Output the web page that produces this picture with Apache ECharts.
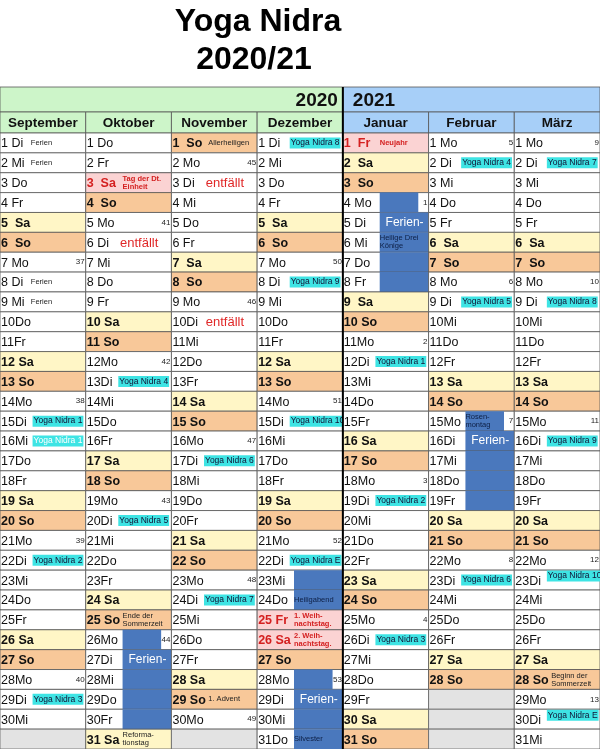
<!DOCTYPE html>
<html><head><meta charset="utf-8">
<script src="https://cdn.jsdelivr.net/npm/echarts@6/dist/echarts.min.js"></script>
<style>html,body{margin:0;padding:0;background:#fff}#c{width:600px;height:749px}</style>
</head><body><div id="c"></div>
<script>
// ---- data ----
const monthNames = ['September','Oktober','November','Dezember','Januar','Februar','März'];
const monthYears = [2020,2020,2020,2020,2021,2021,2021];
const monthNums = [9,10,11,12,1,2,3];
const dayLabels = ['1','2','3','4','5','6','7','8','9','10','11','12','13','14','15','16','17','18','19','20','21','22','23','24','25','26','27','28','29','30','31'];
const weekdayAbbr = ['So','Mo','Di','Mi','Do','Fr','Sa'];
// [monthIndex, day, text]
const yogaNotes = [
 [0,15,'Yoga Nidra 1'],[0,16,'Yoga Nidra 1'],[0,22,'Yoga Nidra 2'],[0,29,'Yoga Nidra 3'],
 [1,13,'Yoga Nidra 4'],[1,20,'Yoga Nidra 5'],
 [2,17,'Yoga Nidra 6'],[2,24,'Yoga Nidra 7'],
 [3,1,'Yoga Nidra 8'],[3,8,'Yoga Nidra 9'],[3,15,'Yoga Nidra 10'],[3,22,'Yoga Nidra E'],
 [4,12,'Yoga Nidra 1'],[4,19,'Yoga Nidra 2'],[4,26,'Yoga Nidra 3'],
 [5,2,'Yoga Nidra 4'],[5,9,'Yoga Nidra 5'],[5,23,'Yoga Nidra 6'],
 [6,2,'Yoga Nidra 7'],[6,9,'Yoga Nidra 8'],[6,16,'Yoga Nidra 9'],[6,23,'Yoga Nidra 10'],[6,30,'Yoga Nidra E']
];
const cancelNotes = [[1,6,'entfällt'],[2,3,'entfällt'],[2,10,'entfällt']];
const smallNotes = [
 [0,1,'Ferien'],[0,2,'Ferien'],[0,8,'Ferien'],[0,9,'Ferien'],
 [2,1,'Allerheiligen'],[1,25,'Ende der\nSommerzeit'],[1,31,'Reforma-\ntionstag'],
 [2,29,'1. Advent'],[6,28,'Beginn der\nSommerzeit'],[3,24,'Heiligabend'],[3,31,'Silvester'],
 [4,6,'Heilige Drei\nKönige'],[5,15,'Rosen-\nmontag']
];
const holidayNotes = [[1,3,'Tag der Dt.\nEinheit'],[4,1,'Neujahr'],[3,25,'1. Weih-\nnachtstag.'],[3,26,'2. Weih-\nnachtstag.']];
// [monthIndex, firstDay, lastDay, labelDay]
const ferien = [[1,26,30,27],[3,23,24,0],[3,28,31,29],[4,4,8,5],[5,15,19,16]];
const weekNumbers = [[0,7,37],[0,14,38],[0,21,39],[0,28,40],[1,5,41],[1,12,42],[1,19,43],[1,26,44],
 [2,2,45],[2,9,46],[2,16,47],[2,23,48],[2,30,49],[3,7,50],[3,14,51],[3,21,52],[3,28,53],
 [4,4,1],[4,11,2],[4,18,3],[4,25,4],[5,1,5],[5,8,6],[5,15,7],[5,22,8],
 [6,1,9],[6,8,10],[6,15,11],[6,22,12],[6,29,13]];

// ---- build ----
function find(arr,m,d){return arr.find(a=>a[0]===m&&a[1]===d);}
function inFerien(m,d){return ferien.find(f=>f[0]===m&&d>=f[1]&&d<=f[2]);}
const cells=[];
monthNames.forEach((n,mi)=>{
  for(let d=1;d<=31;d++) cells.push([mi,d-1]);
});
const FONT='"Liberation Sans", Arial, sans-serif';
function renderItem(params, api){
  const mi=api.value(0), di=api.value(1), d=di+1;
  const c=api.coord([mi,di]); const s=api.size([1,1]);
  const x=c[0]-s[0]/2, y=c[1]-s[1]/2, w=s[0], h=s[1];
  const dt=new Date(monthYears[mi], monthNums[mi]-1, d);
  const valid=dt.getMonth()===monthNums[mi]-1;
  const ch=[];
  if(!valid){
    ch.push({type:'rect',shape:{x,y,width:w,height:h},style:{fill:'#e3e3e3',stroke:'#666',lineWidth:0.8}});
    return {type:'group',children:ch};
  }
  const wd=dt.getDay();
  const hol=find(holidayNotes,mi,d);
  let fill='#ffffff';
  if(wd===6) fill='#fff6c6';
  if(wd===0) fill='#f8c899';
  if(hol) fill='#fbd3d3';
  ch.push({type:'rect',shape:{x,y,width:w,height:h},style:{fill,stroke:'#555',lineWidth:0.8}});
  const fer=inFerien(mi,d);
  if(fer && !hol){
    const bx=x+w*0.43; const bw=(wd===1?w*0.45:w*0.57);
    ch.push({type:'rect',shape:{x:bx,y:y,width:bw,height:h+0.5},style:{fill:'#4a78bd'}});
    if(fer[3]===d) ch.push({type:'text',style:{text:'Ferien-',x:x+w*0.72,y:y+h/2,align:'center',verticalAlign:'middle',fill:'#fff',font:'12px '+FONT}});
  }
  const bold=(wd===0||wd===6||hol);
  const lab=(d<10?d+' ':String(d))+(bold?' ':'')+weekdayAbbr[wd];
  ch.push({type:'text',style:{text:lab,x:x+1,y:y+h/2+1,verticalAlign:'middle',fill:hol?'#d42020':'#111',font:(bold?'bold ':'')+'12.5px '+FONT}});
  const wk=find(weekNumbers,mi,d);
  if(wk) ch.push({type:'text',style:{text:String(wk[2]),x:x+w-1,y:y+h/2,align:'right',verticalAlign:'middle',fill:'#222',font:'8px '+FONT}});
  const yg=find(yogaNotes,mi,d);
  if(yg){
    const up=(mi===6&&(d===23||d===30));
    ch.push({type:'text',style:{text:yg[2],x:x+w*0.38,y:up?y+h*0.3:y+h/2,verticalAlign:'middle',fill:(mi===0&&d===16)?'#fff':'#113',backgroundColor:'#3ee4e4',padding:[1,1],font:'8.5px '+FONT}});
  }
  const cn=find(cancelNotes,mi,d);
  if(cn) ch.push({type:'text',style:{text:cn[2],x:x+w*0.4,y:y+h/2+1,verticalAlign:'middle',fill:'#e02828',font:'13px '+FONT}});
  const sn=find(smallNotes,mi,d);
  if(sn){
    const onBlue=fer&&!hol;
    ch.push({type:'text',style:{text:sn[2],x:x+w*(sn[2]==='Ferien'?0.36:0.43),y:y+h/2,verticalAlign:'middle',fill:onBlue?'#0d1f45':'#222',font:'7.5px '+FONT,lineHeight:8}});
  }
  if(hol){
    ch.push({type:'text',style:{text:hol[2],x:x+w*0.43,y:y+h/2,verticalAlign:'middle',fill:'#d42020',font:'bold 7.5px '+FONT,lineHeight:8}});
  }
  return {type:'group',children:ch};
}
const chart=echarts.init(document.getElementById('c'));
const headerTop=87, monthTop=112, gridTop=133;
const colW=600/7;
const graphics=[
 {type:'text',style:{text:'Yoga Nidra',x:258,y:22,align:'center',verticalAlign:'middle',font:'bold 32px '+FONT,fill:'#000'}},
 {type:'text',style:{text:'2020/21',x:254,y:60,align:'center',verticalAlign:'middle',font:'bold 32px '+FONT,fill:'#000'}},
 {type:'rect',shape:{x:0,y:headerTop,width:4*colW,height:monthTop-headerTop},style:{fill:'#cdf5c9',stroke:'#555',lineWidth:0.8}},
 {type:'rect',shape:{x:4*colW,y:headerTop,width:600-4*colW,height:monthTop-headerTop},style:{fill:'#a7cff8',stroke:'#555',lineWidth:0.8}},
 {type:'text',style:{text:'2020',x:4*colW-5,y:(headerTop+monthTop)/2+1,align:'right',verticalAlign:'middle',font:'bold 19px '+FONT,fill:'#111'}},
 {type:'text',style:{text:'2021',x:4*colW+10,y:(headerTop+monthTop)/2+1,align:'left',verticalAlign:'middle',font:'bold 19px '+FONT,fill:'#111'}}
];
monthNames.forEach((n,i)=>{
  graphics.push({type:'rect',shape:{x:i*colW,y:monthTop,width:colW,height:gridTop-monthTop},style:{fill:monthYears[i]===2020?'#cdf5c9':'#a7cff8',stroke:'#555',lineWidth:0.8}});
  graphics.push({type:'text',style:{text:n,x:i*colW+colW/2,y:(monthTop+gridTop)/2+1,align:'center',verticalAlign:'middle',font:'bold 13.5px '+FONT,fill:'#111'}});
});
graphics.push({type:'line',shape:{x1:4*colW,y1:headerTop,x2:4*colW,y2:749},style:{stroke:'#000',lineWidth:2},z:100});
chart.setOption({
  animation:false,
  grid:{left:0,right:0,top:gridTop,bottom:0},
  xAxis:{type:'category',data:monthNames,show:false},
  yAxis:{type:'category',data:dayLabels,inverse:true,show:false},
  series:[{type:'custom',renderItem,data:cells,encode:{x:0,y:1}}],
  graphic:graphics
});
</script></body></html>
